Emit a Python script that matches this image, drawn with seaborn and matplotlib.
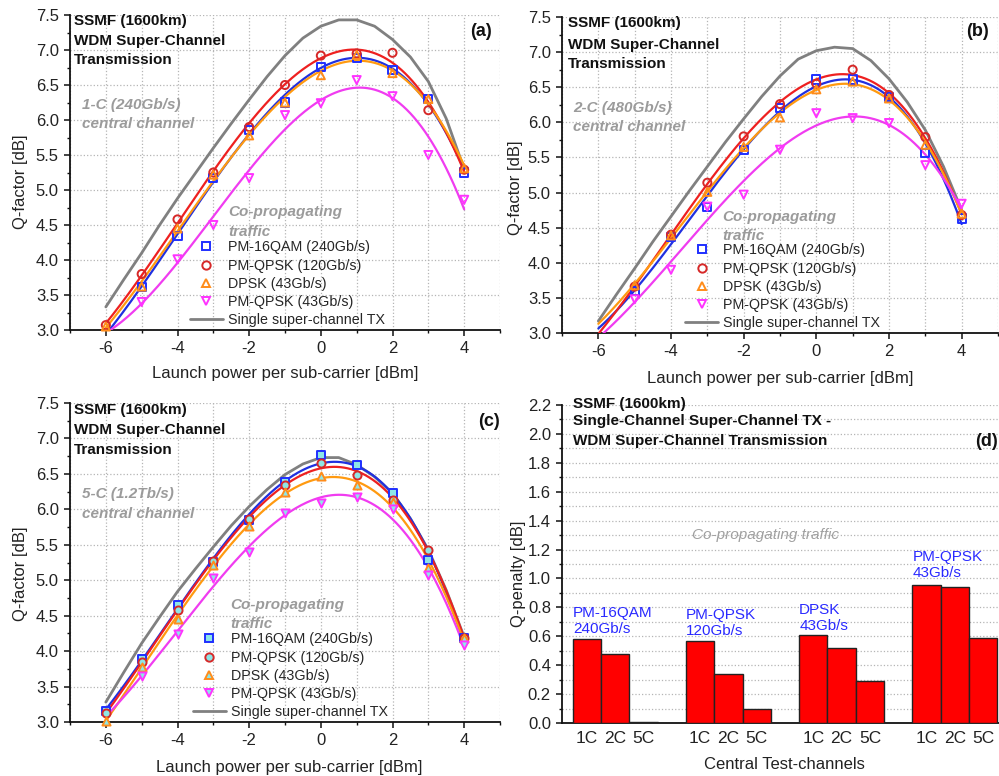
import numpy as np
import pandas as pd
import matplotlib
matplotlib.use("Agg")
import matplotlib.pyplot as plt
import seaborn as sns
from matplotlib.lines import Line2D
from matplotlib.ticker import MultipleLocator

sns.set_theme(style="white")
plt.rcParams["font.family"] = ["Liberation Sans", "DejaVu Sans"]
plt.rcParams["axes.unicode_minus"] = False

# ---------------- data ----------------
power = [-6, -5, -4, -3, -2, -1, 0, 1, 2, 3, 4]
nan = np.nan

# panel (a) 1-C
a_16qam = [nan, 3.62, 4.34, 5.17, 5.86, 6.25, 6.76, 6.88, 6.72, 6.30, 5.25]
a_qpsk120 = [3.07, 3.80, 4.58, 5.25, 5.90, 6.50, 6.92, 6.95, 6.96, 6.14, 5.29]
a_dpsk = [3.05, 3.62, 4.45, 5.22, 5.78, 6.25, 6.64, 6.93, 6.67, 6.30, 5.31]
a_qpsk43 = [nan, 3.40, 4.01, 4.50, 5.17, 6.07, 6.24, 6.57, 6.34, 5.50, 4.86]
# panel (b) 2-C
b_16qam = [nan, 3.60, 4.37, 4.79, 5.60, 6.20, 6.61, 6.61, 6.36, 5.56, 4.63]
b_qpsk120 = [nan, 3.66, 4.40, 5.14, 5.80, 6.26, 6.55, 6.75, 6.39, 5.79, 4.68]
b_dpsk = [nan, 3.68, 4.39, 5.01, 5.65, 6.07, 6.47, 6.58, 6.34, 5.68, 4.70]
b_qpsk43 = [nan, 3.48, 3.90, 4.80, 4.97, 5.61, 6.13, 6.06, 5.99, 5.39, 4.84]
# panel (c) 5-C
c_16qam = [3.16, 3.89, 4.65, 5.26, 5.85, 6.39, 6.76, 6.63, 6.23, 5.28, 4.18]
c_qpsk120 = [3.12, 3.85, 4.58, 5.27, 5.87, 6.35, 6.66, 6.49, 6.13, 5.43, 4.18]
c_dpsk = [3.02, 3.78, 4.46, 5.21, 5.77, 6.25, 6.47, 6.35, 6.11, 5.17, 4.18]
c_qpsk43 = [nan, 3.65, 4.24, 5.03, 5.40, 5.95, 6.09, 6.17, 6.00, 5.07, 4.08]

# single super-channel TX reference curves
single_power = [-6, -5.5, -5, -4.5, -4, -3.5, -3, -2.5, -2, -1.5, -1,
                -0.5, 0, 0.5, 1, 1.5, 2, 2.5, 3, 3.5, 4]
a_single = [3.33, 3.72, 4.10, 4.50, 4.88, 5.24, 5.60, 5.95, 6.29, 6.62, 6.92,
            7.17, 7.34, 7.43, 7.43, 7.34, 7.15, 6.90, 6.55, 6.02, 5.30]
b_single = [3.17, 3.55, 3.92, 4.30, 4.66, 5.02, 5.37, 5.72, 6.05, 6.37, 6.66,
            6.90, 7.02, 7.07, 7.05, 6.88, 6.62, 6.29, 5.89, 5.37, 4.75]
c_single = [3.28, 3.70, 4.11, 4.48, 4.84, 5.16, 5.47, 5.77, 6.04, 6.28, 6.49,
            6.64, 6.73, 6.73, 6.63, 6.46, 6.23, 5.87, 5.43, 4.86, 4.20]

series_names = ["PM-16QAM (240Gb/s)", "PM-QPSK (120Gb/s)", "DPSK (43Gb/s)",
                "PM-QPSK (43Gb/s)"]
single_name = "Single super-channel TX"

# panel (d)
groups = ["PM-16QAM\n240Gb/s", "PM-QPSK\n120Gb/s", "DPSK\n43Gb/s", "PM-QPSK\n43Gb/s"]
channels = ["1C", "2C", "5C"]
penalty_1C = [0.580, 0.567, 0.609, 0.955]
penalty_2C = [0.478, 0.341, 0.521, 0.943]
penalty_5C = [0.005, 0.100, 0.290, 0.586]

# ---------------- style ----------------
marker_styles = ["s", "o", "^", "v"]
marker_colors = ["#1f2fff", "#d62828", "#ff8c1a", "#ff33ff"]
line_colors = ["#2030e0", "#ee2020", "#ff9a10", "#f03cf0"]
grey = "#808080"
label_grey = "#9b9b9b"
W, H = 999, 776

fig = plt.figure(figsize=(W / 100, H / 100), dpi=100)


def add_ax(l, t, r, b):
    return fig.add_axes([l / W, 1 - b / H, (r - l) / W, (b - t) / H])


def ftext(x, y, s, **kw):
    kw.setdefault("va", "center")
    kw.setdefault("ha", "left")
    fig.text(x / W, 1 - y / H, s, **kw)


def style_axes(ax):
    for sp in ["top", "right"]:
        ax.spines[sp].set_visible(False)
    for sp in ["left", "bottom"]:
        ax.spines[sp].set_color("#111111")
        ax.spines[sp].set_linewidth(1.3)
    ax.tick_params(which="both", direction="out", left=True, bottom=True,
                   colors="#111111", labelcolor="#222222", labelsize=12)
    ax.tick_params(which="major", length=4.5, width=1.1)
    ax.tick_params(which="minor", length=2.5, width=1.0)


def line_panel(ax, vals_list, single, fill, legend_anchor):
    sns.lineplot(x=single_power, y=single, ax=ax, color=grey, lw=2.0,
                 zorder=2, legend=False)
    xf = np.linspace(-6, 4, 201)
    for vals, mk, mc, lc in zip(vals_list, marker_styles, marker_colors, line_colors):
        df = pd.DataFrame({"p": power, "q": vals}).dropna()
        coef = np.polyfit(df["p"], df["q"], 3)
        sns.lineplot(x=xf, y=np.polyval(coef, xf), ax=ax, color=lc, lw=1.6,
                     zorder=3, legend=False)
        sns.scatterplot(data=df, x="p", y="q", ax=ax, marker=mk, s=34,
                        color=mc, facecolor=fill, edgecolor=mc, linewidth=1.4,
                        zorder=5, clip_on=False, legend=False)
    ax.set_xlim(-7, 5)
    ax.set_ylim(3.0, 7.5)
    ax.xaxis.set_major_locator(MultipleLocator(2))
    ax.xaxis.set_minor_locator(MultipleLocator(1))
    ax.yaxis.set_major_locator(MultipleLocator(0.5))
    ax.yaxis.set_minor_locator(MultipleLocator(0.25))
    ax.yaxis.set_major_formatter(matplotlib.ticker.FormatStrFormatter("%.1f"))
    ax.grid(True, which="major", axis="y", ls=":", color="#b5b5b5", lw=0.9)
    ax.grid(True, which="both", axis="x", ls=":", color="#b5b5b5", lw=0.9)
    ax.set_axisbelow(True)
    style_axes(ax)
    ax.set_xlabel("Launch power per sub-carrier [dBm]", fontsize=12, color="#222222")
    ax.set_ylabel("Q-factor [dB]", fontsize=12, color="#222222")
    handles = [Line2D([], [], ls="", marker=mk, mfc=fill, mec=mc, mew=1.4, ms=6)
               for mk, mc in zip(marker_styles, marker_colors)]
    handles.append(Line2D([], [], color=grey, lw=2.0))
    ax.legend(handles, series_names + [single_name], loc="lower left",
              bbox_to_anchor=legend_anchor, frameon=False, fontsize=10.3,
              borderpad=0, handlelength=2.3, handletextpad=0.35,
              labelspacing=0.3, borderaxespad=0)


# ---- panel (a)
ax_a = add_ax(70, 15, 500, 330)
line_panel(ax_a, [a_16qam, a_qpsk120, a_dpsk, a_qpsk43], a_single, "none",
           (0.279, 0.008))
ax_a.xaxis.set_label_coords(0.5, -0.137)
ax_a.yaxis.set_label_coords(-0.116, 0.47)

# ---- panel (b)
ax_b = add_ax(562, 17, 998, 333)
line_panel(ax_b, [b_16qam, b_qpsk120, b_dpsk, b_qpsk43], b_single, "none",
           (0.283, 0.008))
ax_b.xaxis.set_label_coords(0.5, -0.143)
ax_b.yaxis.set_label_coords(-0.107, 0.46)

# ---- panel (c)
ax_c = add_ax(70, 403, 500, 722)
line_panel(ax_c, [c_16qam, c_qpsk120, c_dpsk, c_qpsk43], c_single, "#8ee6e6",
           (0.286, 0.008))
ax_c.xaxis.set_label_coords(0.51, -0.144)
ax_c.yaxis.set_label_coords(-0.116, 0.466)

for ax in (ax_a, ax_b, ax_c):
    ax.xaxis.label.set_va("center")
    ax.yaxis.label.set_va("center")

# ---- panel (d)
ax_d = add_ax(562, 405, 999, 723)
dfd = pd.DataFrame({
    "group": groups * 3,
    "channel": np.repeat(channels, len(groups)),
    "penalty": penalty_1C + penalty_2C + penalty_5C,
})
sns.barplot(data=dfd, x="group", y="penalty", hue="channel", order=groups,
            hue_order=channels, palette=["#ff0000"] * 3, saturation=1,
            width=0.75, edgecolor="#222222", linewidth=1.0, legend=False,
            ax=ax_d, zorder=3)
ax_d.set_xlim(-0.47, 3.39)
ax_d.set_ylim(0, 2.2)
ax_d.yaxis.set_major_locator(MultipleLocator(0.2))
ax_d.yaxis.set_minor_locator(MultipleLocator(0.1))
ax_d.yaxis.set_major_formatter(matplotlib.ticker.FormatStrFormatter("%.1f"))
ax_d.grid(True, which="both", axis="y", ls=":", color="#b5b5b5", lw=0.9)
ax_d.grid(False, axis="x")
ax_d.set_axisbelow(True)
style_axes(ax_d)
tick_pos, tick_lab = [], []
for gi in range(len(groups)):
    for ci, ch in enumerate(channels):
        tick_pos.append(gi + (ci - 1) * 0.25)
        tick_lab.append(ch)
ax_d.set_xticks(tick_pos, tick_lab)
ax_d.tick_params(axis="x", which="both", length=0, pad=6, labelsize=12.5)
ax_d.set_xlabel("Central Test-channels", fontsize=12, color="#222222")
ax_d.set_ylabel("Q-penalty [dB]", fontsize=12, color="#222222")
ax_d.xaxis.set_label_coords(0.51, -0.132)
ax_d.yaxis.set_label_coords(-0.10, 0.468)
ax_d.xaxis.label.set_va("center")
ax_d.yaxis.label.set_va("center")
label_y = [0.707, 0.692, 0.728, 1.091]
for gi, (g, ly) in enumerate(zip(groups, label_y)):
    ax_d.text(gi - 0.375, ly, g, color="#2a2aff", fontsize=11, va="center",
              ha="left", linespacing=1.2, zorder=6)

# ---------------- annotation texts ----------------
bold = dict(fontsize=11, fontweight="bold", color="#111111")
ital = dict(fontsize=11, fontweight="bold", fontstyle="italic", color=label_grey)

for (x0, ys, lines) in [
    (74, [21, 41.5, 60], ["SSMF (1600km)", "WDM Super-Channel", "Transmission"]),
    (568, [23.5, 45, 63.5], ["SSMF (1600km)", "WDM Super-Channel", "Transmission"]),
    (74, [410, 430, 450], ["SSMF (1600km)", "WDM Super-Channel", "Transmission"]),
    (573, [404, 421, 441], ["SSMF (1600km)", "Single-Channel Super-Channel TX -",
                            "WDM Super-Channel Transmission"]),
]:
    for y, s in zip(ys, lines):
        ftext(x0, y, s, **bold)

ftext(492, 32, "(a)", ha="right", fontsize=13, fontweight="bold", color="#111111")
ftext(989, 32, "(b)", ha="right", fontsize=13, fontweight="bold", color="#111111")
ftext(500, 422, "(c)", ha="right", fontsize=13, fontweight="bold", color="#111111")
ftext(998, 441, "(d)", ha="right", fontsize=13, fontweight="bold", color="#111111")

ftext(82, 105, "1-C (240Gb/s)", **ital)
ftext(82, 124, "central channel", **ital)
ftext(573, 108, "2-C (480Gb/s)", **ital)
ftext(573, 127, "central channel", **ital)
ftext(82, 494, "5-C (1.2Tb/s)", **ital)
ftext(82, 514, "central channel", **ital)

for (x0, y0) in [(228, 212), (722, 217), (230, 605)]:
    ftext(x0, y0, "Co-propagating", **ital)
    ftext(x0, y0 + 19.5, "traffic", **ital)

ftext(766, 535, "Co-propagating traffic", ha="center", fontsize=11,
      fontstyle="italic", color="#a0a0a0")

fig.savefig("out.png", dpi=100)
